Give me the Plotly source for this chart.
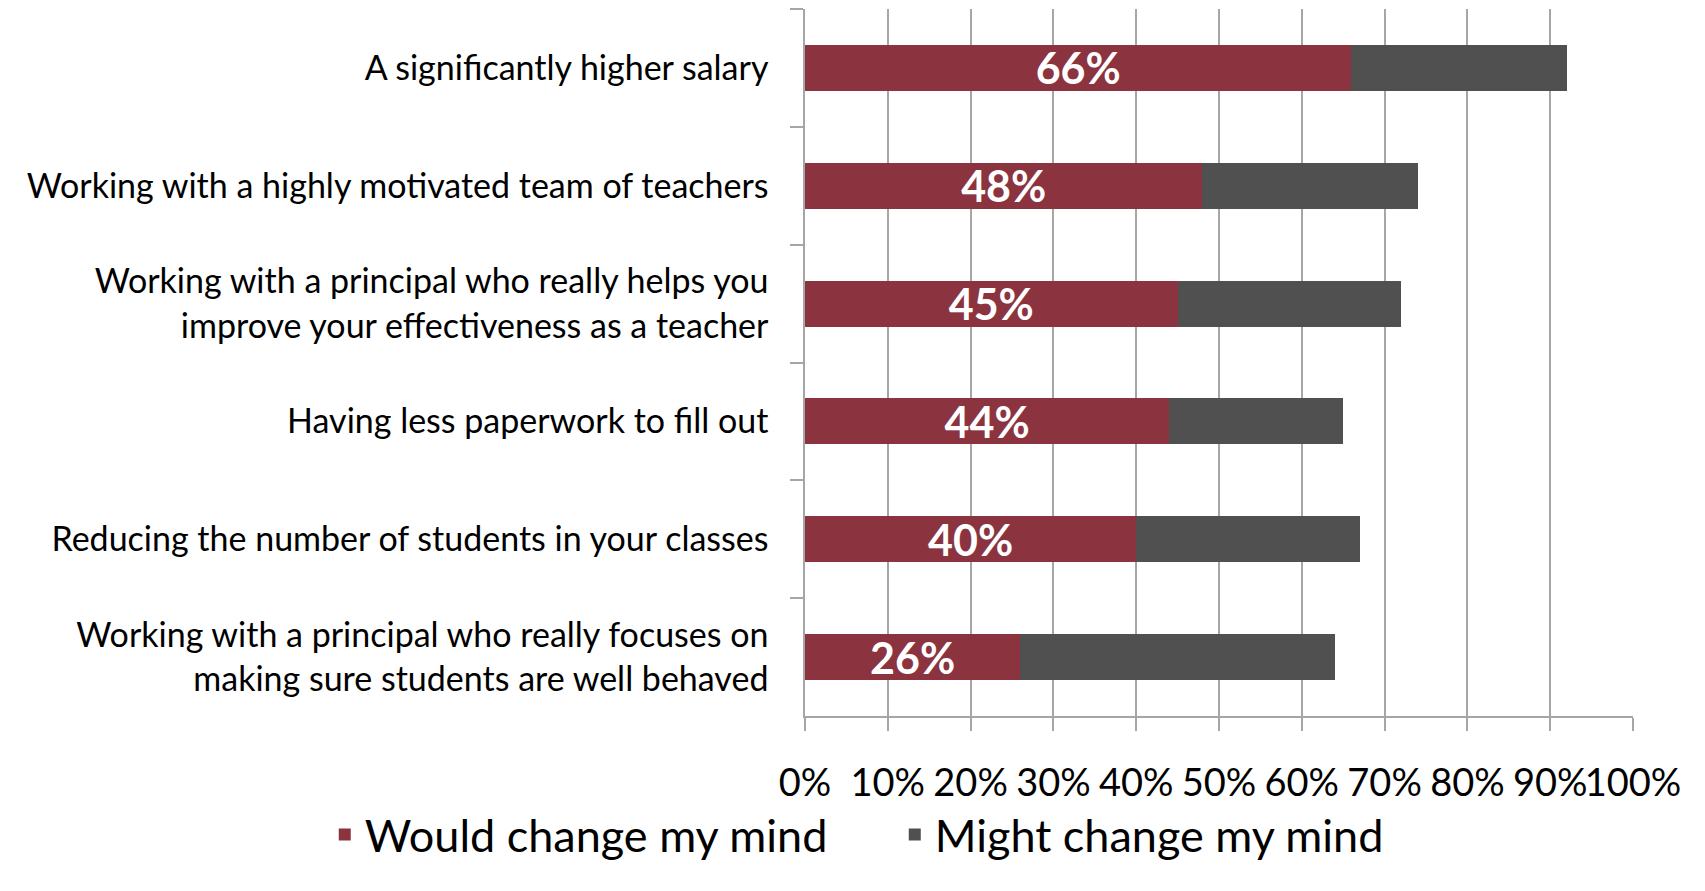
import plotly.graph_objects as go

categories = [
    "A significantly higher salary",
    "Working with a highly motivated team of teachers",
    "Working with a principal who really helps you<br>improve your effectiveness as a teacher",
    "Having less paperwork to fill out",
    "Reducing the number of students in your classes",
    "Working with a principal who really focuses on<br>making sure students are well behaved",
]
would_change = [66, 48, 45, 44, 40, 26]
might_change = [26, 26, 27, 21, 27, 38]
x_ticks = [0, 10, 20, 30, 40, 50, 60, 70, 80, 90, 100]
x_tick_labels = ["0%", "10%", "20%", "30%", "40%", "50%", "60%", "70%", "80%", "90%", "100%"]

RED = "#8c3340"
GRAY = "#505050"
GRID = "#a6a6a6"
FONT = "Lato, 'Open Sans', sans-serif"

fig = go.Figure()

fig.add_trace(go.Bar(
    y=categories, x=would_change,
    orientation="h",
    name="Would change my mind",
    marker=dict(color=RED, line=dict(width=0)),
    text=[f"{v}%" for v in would_change],
    textposition="inside",
    insidetextanchor="middle",
    textfont=dict(family=FONT, size=43, color="white", weight="bold"),
    constraintext="none",
))
fig.add_trace(go.Bar(
    y=categories, x=might_change,
    orientation="h",
    name="Might change my mind",
    marker=dict(color=GRAY, line=dict(width=0)),
))

# the page body has an 8px margin, so margins are shifted to compensate
fig.update_layout(
    barmode="stack",
    bargap=0.61,
    width=1705, height=891,
    paper_bgcolor="white",
    plot_bgcolor="white",
    font=dict(family=FONT, size=34, color="black"),
    margin=dict(l=797, r=80, t=1, b=183),
    showlegend=True,
    legend=dict(
        orientation="h",
        x=-0.58, xanchor="left",
        y=-0.168, yanchor="middle",
        font=dict(size=45),
        traceorder="normal",
        entrywidth=525,
        entrywidthmode="pixels",
        bgcolor="rgba(0,0,0,0)",
    ),
)

fig.update_xaxes(
    range=[0, 100],
    tickvals=x_ticks,
    ticktext=x_tick_labels,
    tickfont=dict(size=38),
    tickangle=0,
    automargin=False,
    showgrid=True, gridcolor=GRID, gridwidth=1.5,
    showline=True, linecolor=GRID, linewidth=1.5,
    ticks="outside", ticklen=13, tickcolor=GRID, tickwidth=1.5,
    ticklabelstandoff=20,
    zeroline=False,
)
fig.update_yaxes(
    autorange="reversed",
    automargin=False,
    tickson="boundaries",
    ticks="outside", ticklen=13, tickcolor=GRID, tickwidth=1.5,
    showline=True, linecolor=GRID, linewidth=1.5,
    showgrid=False,
    ticklabelstandoff=28,
    tickfont=dict(size=34),
)

fig.write_html("out.html")
